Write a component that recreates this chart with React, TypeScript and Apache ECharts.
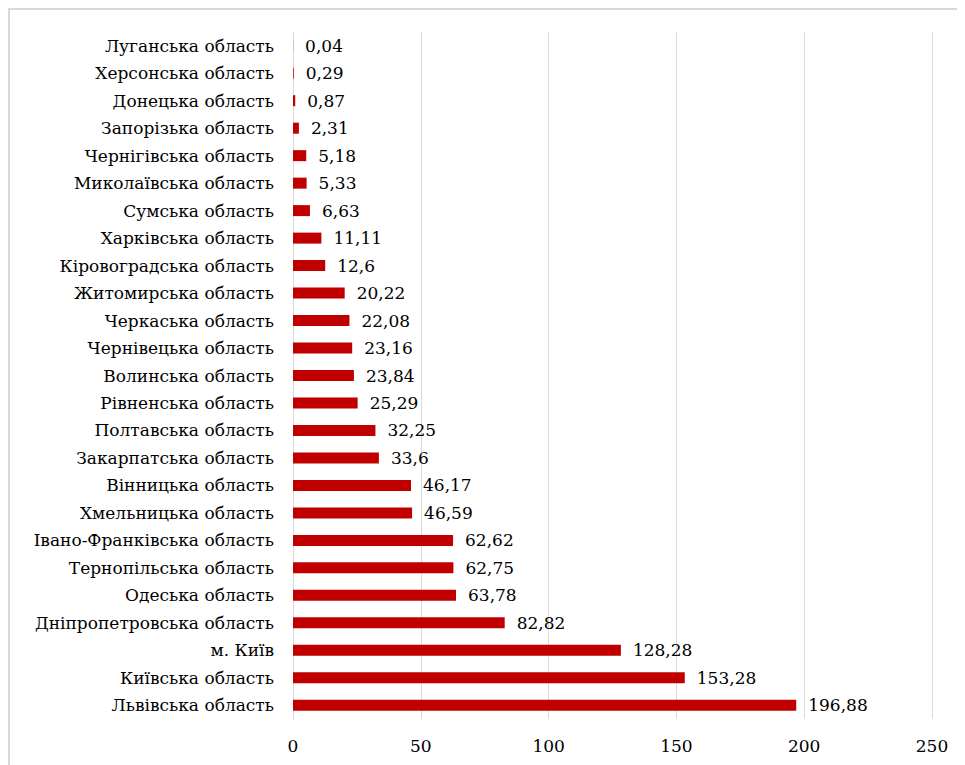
import React, { useEffect, useRef } from "react";
import * as echarts from "echarts";

const categories = [
  "Луганська область",
  "Херсонська область",
  "Донецька область",
  "Запорізька область",
  "Чернігівська область",
  "Миколаївська область",
  "Сумська область",
  "Харківська область",
  "Кіровоградська область",
  "Житомирська область",
  "Черкаська область",
  "Чернівецька область",
  "Волинська область",
  "Рівненська область",
  "Полтавська область",
  "Закарпатська область",
  "Вінницька область",
  "Хмельницька область",
  "Івано-Франківська область",
  "Тернопільська область",
  "Одеська область",
  "Дніпропетровська область",
  "м. Київ",
  "Київська область",
  "Львівська область",
];

const values = [
  0.04, 0.29, 0.87, 2.31, 5.18, 5.33, 6.63, 11.11, 12.6, 20.22, 22.08, 23.16,
  23.84, 25.29, 32.25, 33.6, 46.17, 46.59, 62.62, 62.75, 63.78, 82.82, 128.28,
  153.28, 196.88,
];

const xTicks = { min: 0, max: 250, interval: 50 };

const FONT = '"DejaVu Serif"';
const FS = 17;

export default function App() {
  const ref = useRef<HTMLDivElement>(null);
  useEffect(() => {
    if (!ref.current) return;
    const chart = echarts.init(ref.current, undefined, { renderer: "svg" });
    chart.setOption({
      animation: false,
      textStyle: { fontFamily: FONT },
      grid: {
        left: 283,
        right: 33,
        top: 22,
        bottom: 46,
        containLabel: false,
        outerBoundsMode: "none",
      },
      xAxis: {
        type: "value",
        min: xTicks.min,
        max: xTicks.max,
        interval: xTicks.interval,
        axisLine: { show: false },
        axisTick: { show: false },
        splitLine: { show: true, lineStyle: { color: "#d9d9d9", width: 1 } },
        axisLabel: {
          color: "#000",
          fontFamily: FONT,
          fontSize: FS,
          margin: 18,
        },
      },
      yAxis: {
        type: "category",
        data: categories,
        inverse: true,
        axisLine: { show: true, lineStyle: { color: "#d9d9d9", width: 1 } },
        axisTick: { show: false },
        axisLabel: {
          color: "#000",
          fontFamily: FONT,
          fontSize: FS,
          margin: 19,
        },
      },
      series: [
        {
          type: "bar",
          data: values,
          barWidth: 11,
          itemStyle: { color: "#C00000" },
          label: {
            show: true,
            position: "right",
            distance: 12,
            color: "#000",
            fontFamily: FONT,
            fontSize: FS,
            formatter: (p: any) => String(p.value).replace(".", ","),
          },
        },
      ],
    });
    return () => chart.dispose();
  }, []);
  return (
    <div
      style={{
        borderTop: "2px solid #d9d9d9",
        borderLeft: "2px solid #d9d9d9",
        width: 957,
        height: 757,
        boxSizing: "border-box",
        overflow: "hidden",
        background: "#fff",
      }}
    >
      <div ref={ref} style={{ width: 955, height: 755 }} />
    </div>
  );
}
